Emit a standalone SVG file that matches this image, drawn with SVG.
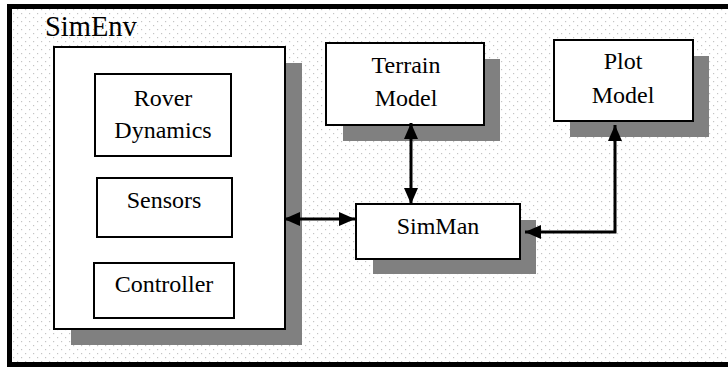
<svg xmlns="http://www.w3.org/2000/svg" width="728" height="367" viewBox="0 0 728 367">
<style>
.box{fill:#fff;stroke:#000;stroke-width:2}
.shadow{fill:#808080}
.lbl{font-family:"Liberation Serif","Times New Roman",serif;font-size:24px;fill:#000;text-anchor:middle}
.title{font-family:"Liberation Serif","Times New Roman",serif;font-size:28.5px;fill:#000}
.conn{fill:none;stroke:#000;stroke-width:3}
</style>
<defs>
<pattern id="dots" x="0" y="0" width="8" height="8" patternUnits="userSpaceOnUse">
<rect x="1" y="1" width="1.2" height="1.2" fill="#c4c4c4"/>
<rect x="5" y="5" width="1.2" height="1.2" fill="#c4c4c4"/>
</pattern>
<marker id="ah" viewBox="0 0 16 14" refX="16" refY="7" markerWidth="16" markerHeight="14" markerUnits="userSpaceOnUse" orient="auto-start-reverse">
<path d="M0,0 L16,7 L0,14 Z" fill="#000"/>
</marker>
</defs>
<rect x="0" y="0" width="728" height="367" fill="#fff"/>
<g id="frame">
<rect x="9.5" y="6.5" width="722" height="358" fill="url(#dots)" stroke="#000" stroke-width="5"/>
<text class="title" x="45" y="36" font-family="Liberation Serif, serif">SimEnv</text>
</g>
<g id="simenv">
<rect class="shadow" x="71" y="63" width="231" height="282"/>
<rect class="box" x="54" y="47" width="231" height="282"/>
</g>
<g id="rover">
<rect class="box" x="95" y="74" width="136" height="82"/>
<text class="lbl" x="163" y="106" font-family="Liberation Serif, serif">Rover</text>
<text class="lbl" x="163" y="138" font-family="Liberation Serif, serif">Dynamics</text>
</g>
<g id="sensors">
<rect class="box" x="97" y="178" width="135" height="59"/>
<text class="lbl" x="164" y="208" font-family="Liberation Serif, serif">Sensors</text>
</g>
<g id="controller">
<rect class="box" x="94" y="263" width="140" height="55"/>
<text class="lbl" x="164" y="292" font-family="Liberation Serif, serif">Controller</text>
</g>
<g id="terrain">
<rect class="shadow" x="343" y="59" width="157" height="82"/>
<rect class="box" x="326" y="43" width="158" height="82"/>
<text class="lbl" x="406" y="73" font-family="Liberation Serif, serif">Terrain</text>
<text class="lbl" x="406" y="106" font-family="Liberation Serif, serif">Model</text>
</g>
<g id="plot">
<rect class="shadow" x="570" y="56" width="139" height="81"/>
<rect class="box" x="554" y="40" width="139" height="81"/>
<text class="lbl" x="623" y="69" font-family="Liberation Serif, serif">Plot</text>
<text class="lbl" x="623" y="103" font-family="Liberation Serif, serif">Model</text>
</g>
<g id="simman">
<rect class="shadow" x="373" y="220" width="163" height="54"/>
<rect class="box" x="356" y="204" width="164" height="55"/>
<text class="lbl" x="438" y="234" font-family="Liberation Serif, serif">SimMan</text>
</g>
<g id="connectors">
<path class="conn" d="M284,219 L355,219" marker-start="url(#ah)" marker-end="url(#ah)"/>
<path class="conn" d="M411,123 L411,204" marker-start="url(#ah)" marker-end="url(#ah)"/>
<path class="conn" d="M615,125 L615,232 L525,232" marker-start="url(#ah)" marker-end="url(#ah)"/>
</g>
</svg>
